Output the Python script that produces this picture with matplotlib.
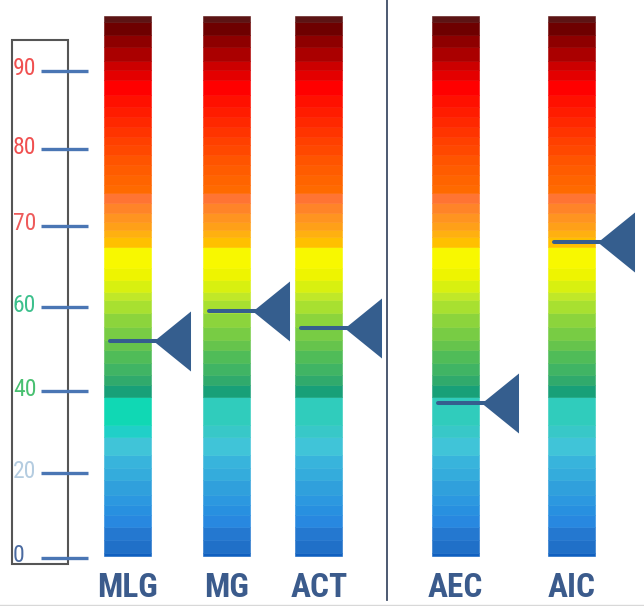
import numpy as np
import matplotlib
matplotlib.use("Agg")
import matplotlib.pyplot as plt
import matplotlib.transforms as mtransforms
from matplotlib.path import Path
from matplotlib.patches import Rectangle

# ---- data -------------------------------------------------------------
categories = ["MLG", "MG", "ACT", "AEC", "AIC"]
scores = [52, 59, 55, 37, 68]
tick_values = [0, 20, 40, 60, 70, 80, 90]
tick_labels = ["0", "20", "40", "60", "70", "80", "90"]

# ---- style ------------------------------------------------------------
W, H, DPI = 644, 606, 100
FONT = ["Roboto Condensed", "DejaVu Sans"]
MARK_COLOR = "#355e8e"
LABEL_COLOR = "#3b5b8c"
TICK_COLOR = "#4a76b4"
tick_colors = ["#4a6aa0", "#b4cce0", "#48c070", "#3cc08c",
               "#ee5a5a", "#f05050", "#f05050"]

# stepped colour ramp: (upper edge of stripe, colour), bottom to top
BAR_FLOOR = 0.5
stripes = [
    (1.2, "#1060c0"), (4.2, "#2070c8"), (7.3, "#2478d0"), (10.1, "#2888e0"),
    (12.5, "#2890e0"), (14.8, "#2c98e0"), (18.4, "#30a0dc"), (21.2, "#34acdc"),
    (24.4, "#38b4dc"), (28.8, "#40c4d8"), (31.7, "#38c8c8"), (38.5, "#30ccbc"),
    (41.4, "#18a078"), (43.8, "#30aa6c"), (46.7, "#40b464"), (49.8, "#50bc58"),
    (52.1, "#66c44c"), (55.2, "#78cc44"), (58.6, "#8cd43c"), (60.9, "#a8e030"),
    (61.9, "#c0e828"), (63.3, "#d8f010"), (64.8, "#eef400"), (67.4, "#f8f800"),
    (68.6, "#ffc000"), (69.5, "#ffb010"), (70.5, "#ffa018"), (71.7, "#ff9420"),
    (73.0, "#ff8428"), (74.3, "#ff7433"), (75.3, "#ff6a00"), (76.6, "#ff6400"),
    (77.9, "#ff5c00"), (79.2, "#ff5400"), (80.5, "#ff4800"), (81.5, "#ff4000"),
    (82.8, "#ff3400"), (84.1, "#ff2800"), (85.4, "#ff1c00"), (86.9, "#ff1000"),
    (88.8, "#ff0000"), (90.1, "#e40000"), (91.2, "#cc0000"), (93.0, "#aa0000"),
    (94.6, "#8e0000"), (96.2, "#6e0000"), (97.0, "#5c1414"),
]
# the first column has a brighter teal band
teal_override = {"MLG": {31.7: "#20d0c8", 38.5: "#10d8b4"}}

# ---- layout (pixels) --------------------------------------------------
bar_centers = [128, 227, 319, 455.5, 572]
BAR_W = 47
# height above the bottom edge at which each tick value sits
tick_px = [48.0, 133.0, 215.0, 299.0, 380.0, 457.0, 535.3]

TV = np.array(tick_values, dtype=float)
TP = np.array(tick_px, dtype=float)
S0 = (TP[1] - TP[0]) / (TV[1] - TV[0])
S1 = (TP[-1] - TP[-2]) / (TV[-1] - TV[-2])


def fwd(v):
    v = np.asarray(v, dtype=float)
    p = np.interp(v, TV, TP)
    p = np.where(v < TV[0], TP[0] + (v - TV[0]) * S0, p)
    return np.where(v > TV[-1], TP[-1] + (v - TV[-1]) * S1, p)


def inv(p):
    p = np.asarray(p, dtype=float)
    v = np.interp(p, TP, TV)
    v = np.where(p < TP[0], TV[0] + (p - TP[0]) / S0, v)
    return np.where(p > TP[-1], TV[-1] + (p - TP[-1]) / S1, v)


fig = plt.figure(figsize=(W / DPI, H / DPI), dpi=DPI)
fig.patch.set_facecolor("white")
ax = fig.add_axes([0, 0, 1, 1])
ax.set_xlim(0, W)
ax.set_yscale("function", functions=(fwd, inv))
ax.set_ylim(float(inv(0.0)), float(inv(float(H))))
ax.axis("off")

bx = mtransforms.blended_transform_factory(ax.transData, ax.transAxes)

# scale box on the left
ax.add_patch(Rectangle((12.5, 42 / H), 55.5, 524 / H, transform=bx,
                       fill=False, edgecolor="#555555", lw=1.5, zorder=2))
ax.hlines(tick_values, 41, 88, color=TICK_COLOR, lw=2.4, zorder=3)
for v, lab, c in zip(tick_values, tick_labels, tick_colors):
    ax.annotate(lab, (13, v), xytext=(0, -4.5), textcoords="offset pixels",
                ha="left", va="baseline", fontsize=17, color=c, family=FONT)

# stepped colour columns
for name, xc in zip(categories, bar_centers):
    lo = BAR_FLOOR
    over = teal_override.get(name, {})
    for hi, col in stripes:
        col = over.get(hi, col)
        ax.bar(xc, hi - lo, bottom=lo, width=BAR_W, color=col,
               edgecolor=col, linewidth=0.4, zorder=2)
        lo = hi

# score pointers
tri = Path([(-0.617, 0), (0.617, 1), (0.617, -1), (-0.617, 0)],
           [Path.MOVETO, Path.LINETO, Path.LINETO, Path.CLOSEPOLY])
for xc, s in zip(bar_centers, scores):
    left = xc - BAR_W / 2 + 6
    tip_c = xc + BAR_W / 2 + 21
    ax.plot([left, tip_c], [s, s], color=MARK_COLOR, lw=2.9,
            solid_capstyle="round", zorder=4)
    ax.plot([tip_c], [s], marker=tri, markersize=43.2, color=MARK_COLOR,
            markeredgewidth=0, zorder=5)

# column labels
for name, xc in zip(categories, bar_centers):
    ax.text(xc, 9 / H, name, transform=bx, ha="center", va="baseline",
            fontsize=24, fontweight="bold", color=LABEL_COLOR, family=FONT)

# divider and bottom rule
ax.axvline(387, ymin=6 / H, ymax=1, color="#3e4c66", lw=1.3)
ax.plot([0, W], [1.5 / H, 1.5 / H], transform=bx, color="#d8d8d8", lw=1)

fig.savefig("out.png", dpi=DPI)
